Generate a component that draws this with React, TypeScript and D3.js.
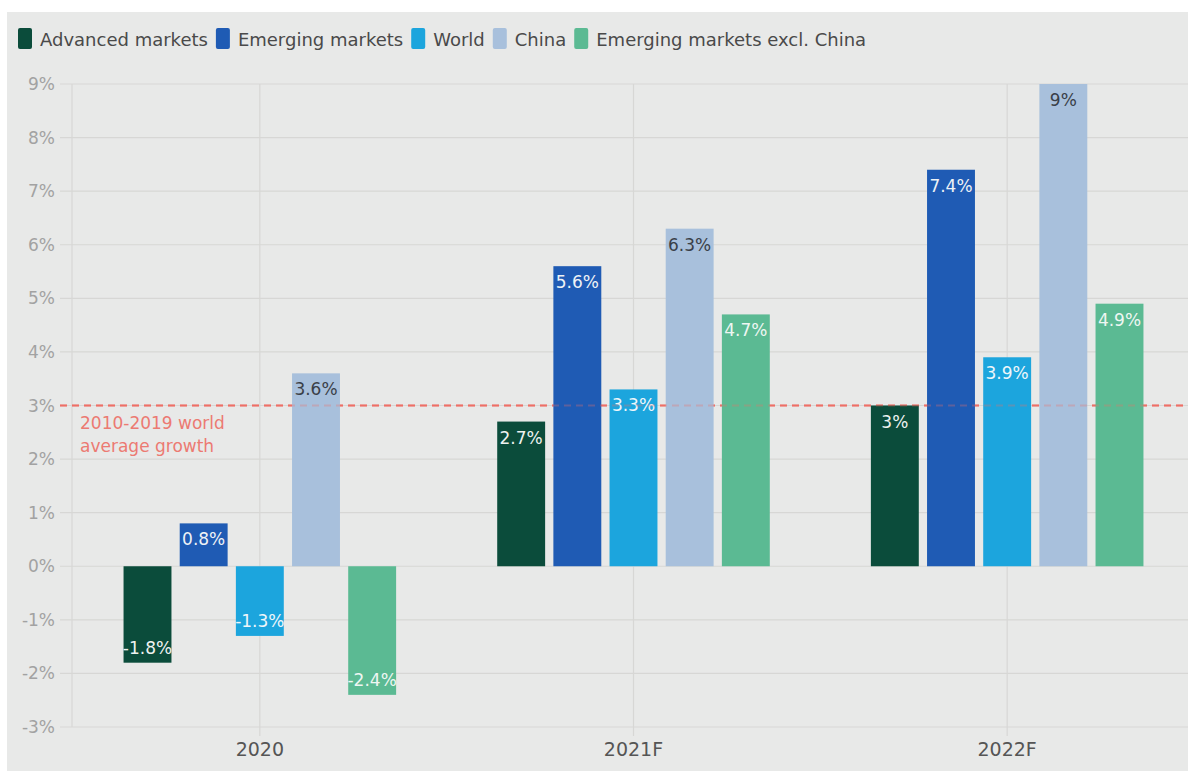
import React, {useEffect, useRef} from "react";
import * as d3 from "d3";

const years = ["2020", "2021F", "2022F"];
const seriesNames = ["Advanced markets", "Emerging markets", "World", "China", "Emerging markets excl. China"];
const seriesColors = ["#0b4c3b", "#1f5bb4", "#1ca5dd", "#a8c0dc", "#5bba93"];
const labelColors = ["#eef2f0", "#eef2f6", "#eef6fa", "#3a3f48", "#eef6f2"];
// values per series, in order of years
const advanced = [-1.8, 2.7, 3];
const emerging = [0.8, 5.6, 7.4];
const world = [-1.3, 3.3, 3.9];
const china = [3.6, 6.3, 9];
const emExChina = [-2.4, 4.7, 4.9];
const yTicks = [-3, -2, -1, 0, 1, 2, 3, 4, 5, 6, 7, 8, 9];
const avgGrowth = 3;
const avgLabel = ["2010-2019 world", "average growth"];

const W = 1188, H = 771;
const FONT = "'DejaVu Sans', sans-serif";

export default function App() {
    const ref = useRef(null);

    useEffect(() => {
        const svg = d3.select(ref.current);
        svg.selectAll("*").remove();

        const values = [advanced, emerging, world, china, emExChina];
        const rows = years.map((yr, yi) => ({
            year: yr,
            bars: seriesNames.map((s, si) => ({series: s, si: si, value: values[si][yi]}))
        }));

        // background
        svg.append("rect").attr("x", 7).attr("y", 12).attr("width", W - 7).attr("height", H - 12)
            .attr("fill", "#e8e9e8");

        const y = d3.scaleLinear().domain([-3, 9]).range([727, 84]);
        const x0 = d3.scaleBand().domain(years).range([73, 1194]).padding(0);
        const x1 = d3.scaleBand().domain(seriesNames).range([0, x0.bandwidth()])
            .paddingInner(0.147).paddingOuter(0.9);

        // grid
        const grid = svg.append("g");
        grid.selectAll("line.h").data(yTicks).enter().append("line")
            .attr("x1", 60).attr("x2", W)
            .attr("y1", d => y(d)).attr("y2", d => y(d))
            .attr("stroke", "#d7d7d5").attr("stroke-width", 1.2);
        grid.append("line").attr("x1", 72).attr("x2", 72).attr("y1", y(9)).attr("y2", y(-3))
            .attr("stroke", "#d7d7d5").attr("stroke-width", 1.2);
        grid.selectAll("line.v").data(years).enter().append("line")
            .attr("x1", d => x0(d)! + x0.bandwidth() / 2).attr("x2", d => x0(d)! + x0.bandwidth() / 2)
            .attr("y1", y(9)).attr("y2", y(-3) + 9)
            .attr("stroke", "#d7d7d5").attr("stroke-width", 1.2);

        // y tick labels
        svg.append("g").selectAll("text").data(yTicks).enter().append("text")
            .attr("x", 55).attr("y", d => y(d))
            .attr("text-anchor", "end").attr("dominant-baseline", "central")
            .style("font-family", FONT).style("font-size", "17px").attr("fill", "#a2a2a2")
            .text(d => d + "%");

        // x labels
        svg.append("g").selectAll("text").data(years).enter().append("text")
            .attr("x", d => x0(d)! + x0.bandwidth() / 2).attr("y", 749)
            .attr("text-anchor", "middle").attr("dominant-baseline", "central")
            .style("font-family", FONT).style("font-size", "19px").attr("fill", "#555")
            .text(d => d);

        // average line (behind bars)
        const avgY = y(avgGrowth);
        svg.append("line").attr("x1", 60).attr("x2", W).attr("y1", avgY).attr("y2", avgY)
            .attr("stroke", "#ee6f66").attr("stroke-width", 2).attr("stroke-dasharray", "7,5");

        // bars
        const groups = svg.append("g").selectAll("g").data(rows).enter().append("g")
            .attr("transform", d => `translate(${x0(d.year)},0)`);
        groups.selectAll("rect").data(d => d.bars).enter().append("rect")
            .attr("x", d => x1(d.series)!)
            .attr("width", x1.bandwidth())
            .attr("y", d => y(Math.max(0, d.value)))
            .attr("height", d => Math.abs(y(d.value) - y(0)))
            .attr("fill", d => seriesColors[d.si]);

        // faint line over bars
        svg.append("line").attr("x1", 60).attr("x2", W).attr("y1", avgY).attr("y2", avgY)
            .attr("stroke", "#ee6f66").attr("stroke-width", 2).attr("stroke-dasharray", "7,5")
            .attr("opacity", 0.3);

        // value labels
        groups.selectAll("text").data(d => d.bars).enter().append("text")
            .attr("x", d => x1(d.series)! + x1.bandwidth() / 2)
            .attr("y", d => d.value >= 0 ? y(d.value) + 16 : y(d.value) - 15)
            .attr("text-anchor", "middle").attr("dominant-baseline", "central")
            .style("font-family", FONT).style("font-size", "17px")
            .attr("fill", d => labelColors[d.si])
            .text(d => d.value + "%");

        // annotation
        svg.append("g").selectAll("text").data(avgLabel).enter().append("text")
            .attr("x", 80).attr("y", (d, i) => avgY + 17 + i * 23)
            .attr("dominant-baseline", "central")
            .style("font-family", FONT).style("font-size", "17px").attr("fill", "#ec7a72")
            .text(d => d);

        // legend
        const legend = svg.append("g");
        let lx = 18;
        seriesNames.forEach((s, i) => {
            legend.append("rect").attr("x", lx).attr("y", 28).attr("width", 14).attr("height", 21)
                .attr("rx", 2).attr("fill", seriesColors[i]);
            const t = legend.append("text").attr("x", lx + 22).attr("y", 39)
                .attr("dominant-baseline", "central")
                .style("font-family", FONT).style("font-size", "18px").attr("fill", "#4a4a4a")
                .text(s);
            const w = (t.node() as SVGTextElement).getComputedTextLength();
            lx = lx + 22 + w + 8;
        });
    }, []);

    return (
        <svg ref={ref} width={W} height={H}
             style={{position: "absolute", left: 0, top: 0, background: "#fff"}}/>
    );
}
